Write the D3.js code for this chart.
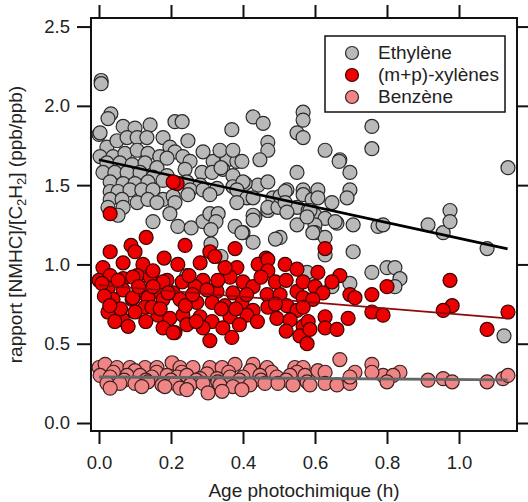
<!DOCTYPE html>
<html>
<head>
<meta charset="utf-8">
<script src="https://cdn.jsdelivr.net/npm/d3@7"></script>
<style>
  body { margin: 0; background: #fff; }
  text { font-family: "Liberation Sans", Arial, sans-serif; fill: #222; }
</style>
</head>
<body>
<script>
// age photochimique (h), rapport
const ethylene = [
  [0.006,2.16],[0.006,2.14],[0.033,1.95],[0.025,1.92],[0.0,1.82],[0.003,1.83],[0.067,1.87],[0.100,1.86],[0.142,1.88],[0.211,1.90],[0.231,1.90],
  [0.022,1.74],[0.050,1.78],[0.078,1.80],[0.106,1.80],[0.133,1.80],[0.178,1.80],
  [0.003,1.68],[0.039,1.68],[0.072,1.70],[0.106,1.72],[0.136,1.70],[0.169,1.68],[0.197,1.74],[0.211,1.71],
  [0.022,1.64],[0.058,1.64],[0.092,1.63],[0.128,1.64],[0.161,1.61],[0.189,1.67],[0.233,1.68],[0.253,1.65],[0.317,1.65],[0.356,1.66],[0.383,1.65],
  [0.011,1.58],[0.044,1.58],[0.078,1.58],[0.114,1.58],[0.150,1.55],[0.189,1.56],[0.239,1.60],[0.286,1.58],[0.314,1.58],[0.344,1.60],[0.372,1.56],
  [0.031,1.52],[0.067,1.51],[0.100,1.51],[0.136,1.52],[0.178,1.53],[0.244,1.52],[0.281,1.50],
  [0.031,1.46],[0.053,1.46],[0.086,1.47],[0.119,1.47],[0.150,1.47],[0.253,1.47],[0.289,1.47],[0.328,1.48],[0.372,1.49],
  [0.031,1.41],[0.064,1.41],[0.106,1.39],[0.136,1.41],[0.178,1.41],[0.206,1.43],[0.247,1.44],[0.308,1.44],
  [0.025,1.36],[0.067,1.36],[0.161,1.39],[0.211,1.39],[0.197,1.32],[0.053,1.31],
  [0.150,1.27],[0.219,1.24],[0.256,1.23],[0.289,1.27],[0.308,1.32],[0.331,1.32],[0.325,1.27],[0.311,1.22],[0.378,1.24],[0.400,1.20],[0.428,1.14],[0.311,1.13],[0.339,1.05],
  [0.503,1.17],[0.433,1.30],[0.469,1.34],[0.483,1.42],[0.442,1.50],[0.469,1.52],[0.406,1.51],[0.339,1.61],
  [0.247,1.78],[0.289,1.71],[0.336,1.72],[0.372,1.72],[0.369,1.85],[0.428,1.93],[0.456,1.89],[0.567,1.96],[0.567,1.91],[0.550,1.83],[0.567,1.80],[0.469,1.77],[0.469,1.72],[0.447,1.66],[0.397,1.65],
  [0.628,1.72],[0.669,1.66],[0.697,1.58],[0.697,1.47],[0.689,1.42],[0.550,1.58],
  [0.400,1.52],[0.383,1.47],[0.411,1.42],[0.428,1.42],[0.383,1.39],[0.428,1.31],[0.428,1.28],[0.469,1.36],[0.497,1.36],[0.522,1.47],[0.503,1.43],[0.525,1.34],[0.550,1.36],[0.567,1.47],[0.567,1.44],[0.592,1.41],[0.608,1.47],[0.608,1.42],[0.647,1.39],[0.581,1.34],[0.600,1.31],[0.628,1.29],[0.661,1.26],[0.550,1.25],[0.600,1.25],[0.600,1.20],[0.628,1.17],[0.706,1.25],[0.490,1.16],[0.397,1.20],[0.706,1.08],[0.628,1.06],
  [0.667,1.65],[0.517,1.46],[0.517,1.39],[0.522,1.33],[0.586,1.34],[0.578,1.30],[0.656,1.27],[0.594,1.20],
  [0.775,1.24],[0.789,1.25],[0.914,1.25],[0.956,1.20],[0.975,1.34],[0.975,1.27],[1.078,1.10],[1.136,1.61],[0.758,1.87],[0.758,1.73],
  [0.758,0.95],[0.800,0.98],[0.822,0.98],[0.836,0.91],[0.822,0.86],[0.697,0.88],[0.647,0.86],[0.586,0.93],[1.125,0.55],[0.244,0.93],[0.578,0.95]
];

const xylenes = [
  [0.031,1.32],[0.217,1.51],[0.206,1.52],[0.131,1.17],[0.089,1.12],[0.100,1.08],[0.031,1.08],[0.239,1.12],[0.181,1.04],[0.308,1.08],[0.322,1.05],[0.378,1.10],[0.464,1.04],[0.628,1.10],
  [0.011,0.98],[0.067,1.01],[0.122,1.00],[0.219,1.00],[0.281,1.01],[0.383,0.98],[0.442,1.00],[0.469,1.03],[0.517,1.00],
  [0.0,0.90],[0.031,0.93],[0.067,0.91],[0.106,0.93],[0.142,0.92],[0.189,0.90],[0.231,0.89],[0.289,0.90],[0.364,0.92],[0.400,0.89],[0.469,0.96],
  [0.025,0.85],[0.067,0.84],[0.119,0.82],[0.161,0.83],[0.206,0.82],[0.267,0.86],[0.328,0.83],[0.372,0.82],[0.428,0.86],[0.467,0.81],[0.503,0.81],[0.550,0.83],
  [0.039,0.78],[0.092,0.78],[0.136,0.79],[0.178,0.78],[0.225,0.78],[0.272,0.76],[0.314,0.76],[0.350,0.74],[0.397,0.76],[0.428,0.71],[0.469,0.73],[0.522,0.74],[0.550,0.71],
  [0.050,0.70],[0.128,0.73],[0.164,0.68],[0.197,0.66],[0.233,0.68],[0.281,0.67],[0.314,0.64],[0.364,0.67],[0.411,0.68],[0.494,0.66],[0.531,0.65],[0.567,0.61],
  [0.025,0.70],[0.067,0.65],[0.081,0.61],[0.178,0.60],[0.211,0.57],[0.244,0.62],[0.289,0.60],[0.344,0.60],[0.369,0.54],[0.308,0.52],[0.558,0.55],[0.578,0.50],
  [0.608,0.95],[0.669,0.93],[0.647,0.89],[0.567,0.89],[0.600,0.86],[0.622,0.82],[0.697,0.81],[0.711,0.79],[0.758,0.81],[0.800,0.86],[0.567,0.79],[0.594,0.78],[0.567,0.73],[0.758,0.70],[0.789,0.68],[0.692,0.66],[0.628,0.67],[0.581,0.64],[0.586,0.59],[0.628,0.60],[0.661,0.59],
  [0.975,0.90],[0.981,0.74],[0.956,0.71],[1.078,0.59],[1.136,0.70],
  [0.053,0.90],[0.094,0.92],[0.150,0.96],[0.178,0.89],[0.192,0.82],[0.147,0.73],[0.044,0.64],[0.094,0.79],[0.206,0.57],
  [0.008,0.88],[0.015,0.80],[0.060,0.72],[0.100,0.70],[0.110,0.86],[0.150,0.86],[0.170,0.72],[0.240,0.74],[0.260,0.81],[0.250,0.93],[0.300,0.84],[0.330,0.90],
  [0.340,0.72],[0.380,0.72],[0.410,0.81],[0.450,0.92],[0.490,0.89],[0.520,0.90],[0.490,0.75],[0.440,0.64],[0.390,0.62],[0.270,0.64],[0.130,0.64],[0.030,0.74],[0.350,0.98],[0.550,0.97],[0.520,0.58]
];

const benzene = [
  [0.0,0.35],[0.017,0.37],[0.050,0.35],[0.086,0.35],[0.128,0.35],[0.161,0.35],[0.203,0.38],[0.225,0.35],[0.261,0.35],[0.308,0.35],[0.342,0.35],[0.378,0.37],[0.428,0.37],[0.467,0.35],[0.544,0.35],[0.567,0.35],
  [0.040,0.32],[0.100,0.33],[0.160,0.32],[0.230,0.32],[0.300,0.31],[0.360,0.32],[0.420,0.33],[0.480,0.32],[0.550,0.32],
  [0.003,0.30],[0.031,0.29],[0.078,0.30],[0.114,0.30],[0.147,0.29],[0.189,0.30],[0.217,0.29],[0.244,0.30],[0.281,0.28],[0.328,0.28],[0.364,0.29],[0.400,0.29],[0.447,0.30],[0.494,0.29],[0.531,0.30],[0.572,0.30],
  [0.070,0.27],[0.130,0.27],[0.200,0.27],[0.270,0.27],[0.330,0.26],[0.390,0.27],[0.450,0.27],[0.520,0.27],
  [0.022,0.25],[0.058,0.25],[0.100,0.25],[0.136,0.26],[0.175,0.24],[0.211,0.25],[0.253,0.24],[0.289,0.25],[0.336,0.24],[0.372,0.23],[0.419,0.24],[0.461,0.25],[0.497,0.25],[0.539,0.24],[0.578,0.26],
  [0.031,0.22],[0.119,0.23],[0.183,0.23],[0.225,0.22],[0.303,0.19],[0.342,0.20],[0.397,0.21],[0.244,0.21],
  [0.669,0.40],[0.758,0.37],[0.608,0.33],[0.628,0.32],[0.711,0.32],[0.789,0.30],[0.836,0.32],[0.817,0.30],[0.758,0.32],[0.586,0.24],[0.628,0.25],[0.661,0.24],[0.697,0.25],[0.697,0.29],[0.800,0.26],[0.914,0.27],[0.956,0.28],[0.981,0.26],[1.078,0.26],[1.122,0.28],[1.136,0.30]
];

// droites de regression (debut, fin)
const fitAge = [0.0, 1.135];
const ethyleneFit = [1.66, 1.098];
const xylenesFit = [0.87, 0.66];
const benzeneFit = [0.29, 0.272];

const xTicks = [0.0, 0.2, 0.4, 0.6, 0.8, 1.0];
const yTicks = [0.0, 0.5, 1.0, 1.5, 2.0, 2.5];
const legendLabels = ['Ethylène', '(m+p)-xylènes', 'Benzène'];

let width = 528, height = 502;
let margin = { top: 18, right: 11, bottom: 71, left: 91 };
let w = width - margin.left - margin.right;
let h = height - margin.top - margin.bottom;

let x = d3.scaleLinear().domain([-0.0222, 1.1611]).range([0, w]);
let y = d3.scaleLinear().domain([-0.0504, 2.554]).range([h, 0]);

let svg = d3.select('body').append('svg')
            .attr('width', width)
            .attr('height', height)
            .append('g')
            .attr('transform', 'translate(' + margin.left + ',' + margin.top + ')');

let series = [
  { data: ethylene, fit: ethyleneFit, fill: '#b9b9b9', stroke: '#2a2a2a', line: '#000', lw: 2.6 },
  { data: xylenes, fit: xylenesFit, fill: '#ee0000', stroke: '#3a0000', line: '#8c0a0a', lw: 1.8 },
  { data: benzene, fit: benzeneFit, fill: '#f08585', stroke: '#3a2020', line: '#666', lw: 3 }
];

let line = d3.line()
             .x((d, i) => { return x(fitAge[i]); })
             .y((d) => { return y(d); });

series.forEach((s) => {
  svg.append('g').selectAll('circle')
     .data(s.data)
     .enter()
     .append('circle')
     .attr('cx', (d) => { return x(d[0]); })
     .attr('cy', (d) => { return y(d[1]); })
     .attr('r', 7)
     .attr('fill', s.fill)
     .attr('stroke', s.stroke)
     .attr('stroke-width', 1.2);
  svg.append('path')
     .attr('d', line(s.fit))
     .attr('fill', 'none')
     .attr('stroke', s.line)
     .attr('stroke-width', s.lw);
});

// axes on all four sides, ticks outside
let fmt = d3.format('.1f');
let axLeft = svg.append('g').call(d3.axisLeft(y).tickValues(yTicks).tickSize(14).tickPadding(7).tickFormat(fmt));
let axBottom = svg.append('g').attr('transform', 'translate(0,' + h + ')')
                  .call(d3.axisBottom(x).tickValues(xTicks).tickSize(13).tickPadding(12).tickFormat(fmt));
let axTop = svg.append('g').call(d3.axisTop(x).tickValues(xTicks).tickSize(13).tickFormat(''));
let axRight = svg.append('g').attr('transform', 'translate(' + w + ',0)')
                 .call(d3.axisRight(y).tickValues(yTicks).tickSize(13).tickFormat(''));

[axLeft, axBottom, axTop, axRight].forEach((g) => {
  g.select('.domain').remove();
  g.selectAll('line').attr('stroke', '#111').attr('stroke-width', 2);
  g.selectAll('text').style('font-size', '18.5px').attr('fill', '#222');
});

svg.append('rect')
   .attr('width', w).attr('height', h)
   .attr('fill', 'none').attr('stroke', '#111').attr('stroke-width', 2);

// legend
let lg = svg.append('g').attr('transform', 'translate(' + (325 - margin.left) + ',' + (36 - margin.top) + ')');
lg.append('rect').attr('width', 180).attr('height', 76)
  .attr('fill', '#fff').attr('stroke', '#111').attr('stroke-width', 1.5);
legendLabels.forEach((t, i) => {
  lg.append('circle').attr('cx', 27).attr('cy', 17 + i * 22).attr('r', 6.5)
    .attr('fill', series[i].fill).attr('stroke', series[i].stroke).attr('stroke-width', 1.2);
  lg.append('text').attr('x', 53).attr('y', 23 + i * 22).style('font-size', '19px').text(t);
});

// axis titles
svg.append('text')
   .attr('x', w / 2).attr('y', h + 66)
   .attr('text-anchor', 'middle')
   .style('font-size', '19px')
   .text('Age photochimique (h)');

let yl = svg.append('text')
            .attr('transform', 'translate(' + (-69) + ',' + (h / 2) + ') rotate(-90)')
            .attr('text-anchor', 'middle')
            .style('font-size', '19px');
yl.append('tspan').text('rapport [NMHC]/[C');
yl.append('tspan').attr('dy', 4).style('font-size', '13px').text('2');
yl.append('tspan').attr('dy', -4).text('H');
yl.append('tspan').attr('dy', 4).style('font-size', '13px').text('2');
yl.append('tspan').attr('dy', -4).text('] (ppb/ppb)');
</script>
</body>
</html>
